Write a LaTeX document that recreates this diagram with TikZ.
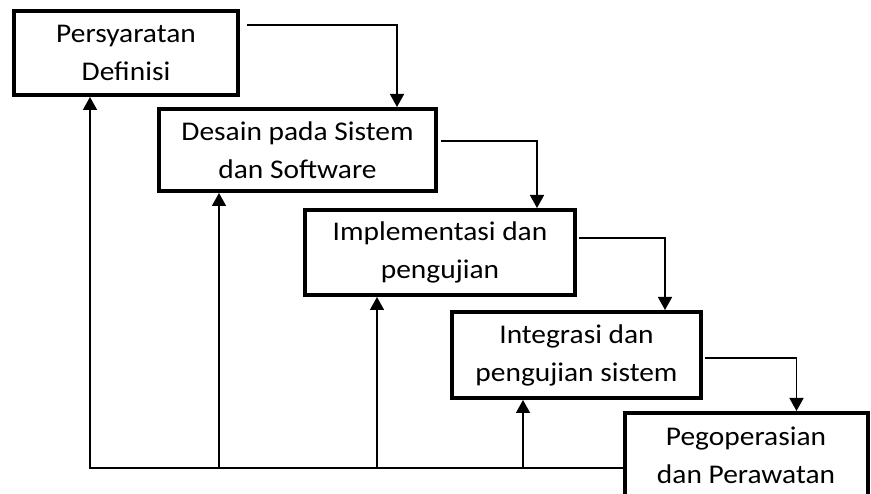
\documentclass[tikz,border=0pt]{standalone}
\usepackage{fontspec}
\setmainfont[FakeStretch=1.09]{Carlito}
\usetikzlibrary{arrows.meta}
\tikzset{
	every node/.style = {font=\fontsize{27}{38}\selectfont},
	phase/.style = {draw, line width=4pt, align=center, inner sep=0pt},
	flow/.style = {line width=1.5pt, -{Triangle[width=14pt,length=13pt]}}
}

\begin{document}
\begin{tikzpicture}[x=1pt, y=-1pt]
		\useasboundingbox (0,0) rectangle (871,494);
		\clip (0,0) rectangle (871,494);
		% phases
		\node[phase, minimum width=224pt, minimum height=84pt] (b1) at (126,53) {Persyaratan\\Definisi};
		\node[phase, minimum width=277pt, minimum height=82pt] (b2) at (297.5,150) {Desain pada Sistem\\dan Software};
		\node[phase, minimum width=270pt, minimum height=85pt] (b3) at (440,252.5) {Implementasi dan\\pengujian};
		\node[phase, minimum width=249pt, minimum height=86pt] (b4) at (576.5,355) {Integrasi dan\\pengujian sistem};
		\node[phase, minimum width=243pt, minimum height=84pt] (b5) at (746,455) {Pegoperasian\\dan Perawatan};
		
		% forward
		\draw[flow] ([xshift=7pt,yshift=-16pt]b1.north east) -| ([xshift=-41pt]b2.north east);
		\draw[flow] ([xshift=3pt,yshift=-34pt]b2.north east) -| ([xshift=-40pt]b3.north east);
		\draw[flow] ([xshift=2pt,yshift=-30pt]b3.north east) -| ([xshift=-38pt]b4.north east);
		\draw[flow] ([xshift=2pt,yshift=-48pt]b4.north east) -| ([xshift=174pt]b5.north west);
		
		% back
		\coordinate (base) at (90,468);
		\draw[flow] (b5.west |- base) -- (base) -- (b1.south -| base);
		\foreach \n/\dx in {b2/62, b3/74, b4/73}{
			\coordinate (f\n) at ([xshift=\dx pt]\n.south west);
			\draw[flow] (f\n |- base) -- (f\n);
		}
	\end{tikzpicture}
\end{document}
